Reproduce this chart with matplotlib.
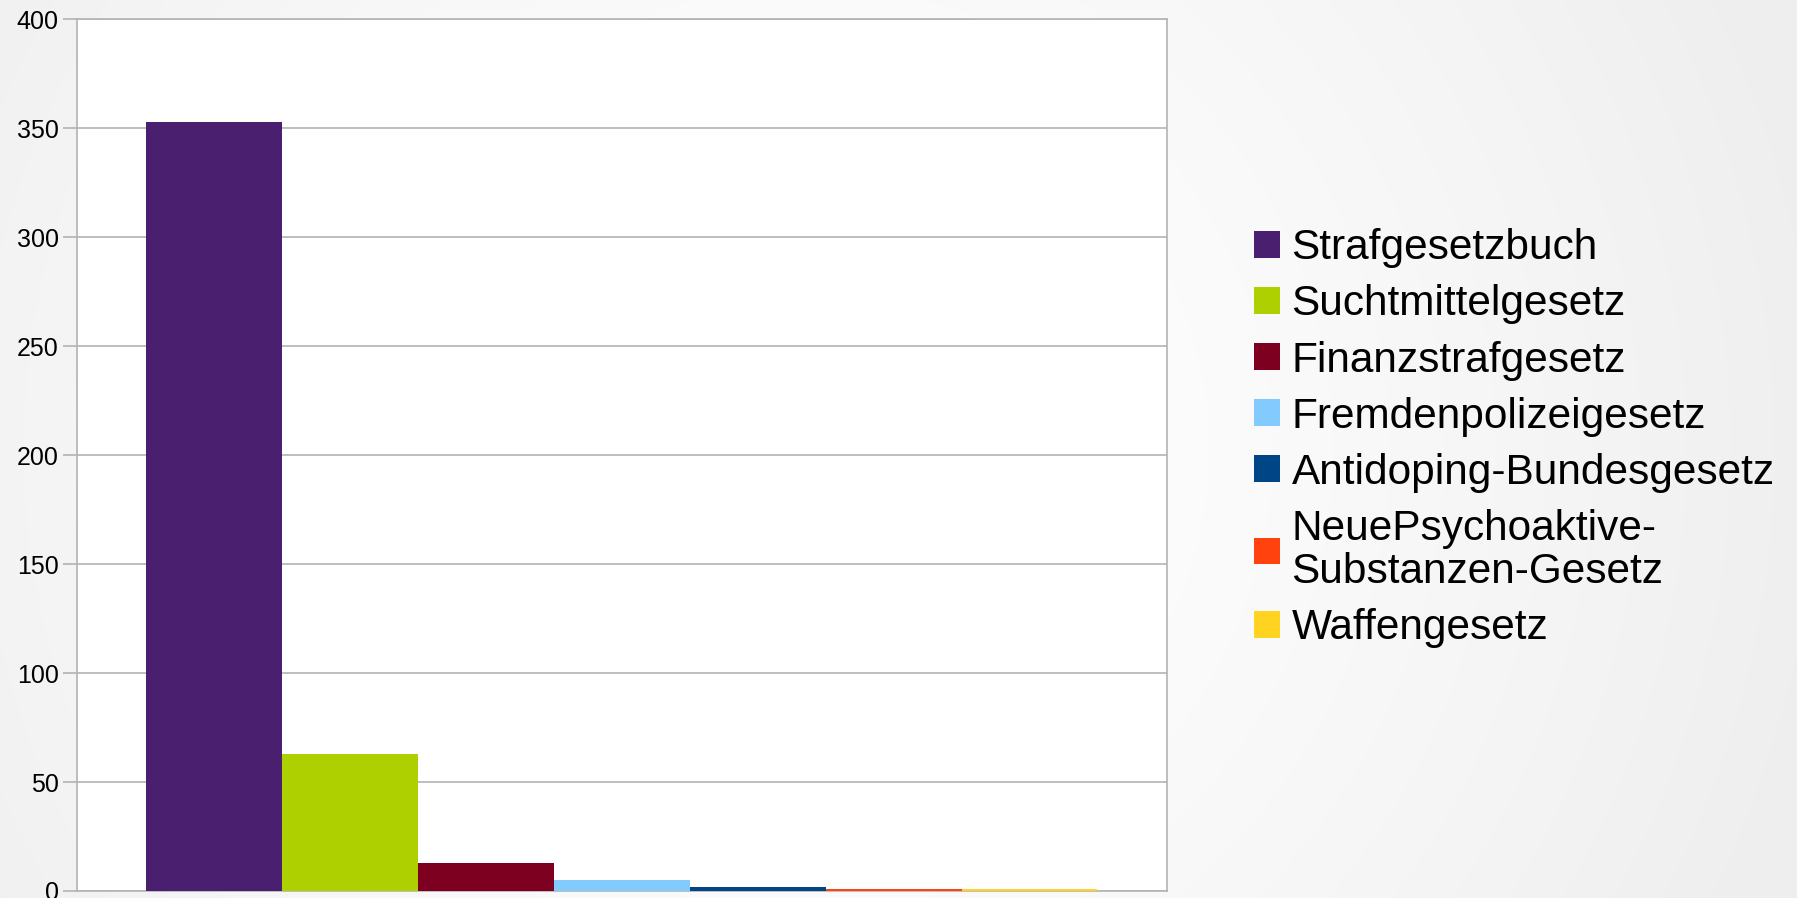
import numpy as np
import matplotlib.pyplot as plt

# data
laws = ['Strafgesetzbuch', 'Suchtmittelgesetz', 'Finanzstrafgesetz',
        'Fremdenpolizeigesetz', 'Antidoping-Bundesgesetz',
        'NeuePsychoaktive-\nSubstanzen-Gesetz', 'Waffengesetz']
counts = [353, 63, 13, 5, 2, 1, 1]
colors = ['#4b1f6f', '#aecf00', '#7e0021', '#83caff', '#004586', '#ff420e', '#ffd320']
y_ticks = [0, 50, 100, 150, 200, 250, 300, 350, 400]


def main():
    plt.rcParams['font.family'] = ['Liberation Sans', 'DejaVu Sans']
    fig = plt.figure(figsize=(17.97, 8.98), dpi=100)

    # soft radial background like the slide
    bg = fig.add_axes([0, 0, 1, 1], zorder=-10)
    yy, xx = np.mgrid[0:1:300j, 0:2:600j]
    r = np.sqrt((xx - 0.9) ** 2 + (yy - 0.5) ** 2)
    shade = 1.0 - 0.065 * np.clip(r / 1.15, 0, 1) ** 1.5
    bg.imshow(np.dstack([shade] * 3), extent=[0, 1, 0, 1], aspect='auto')
    bg.axis('off')

    ax = fig.add_axes([0.0428, 0.0078, 0.6066, 0.9705])
    ax.set_facecolor('white')

    w = 0.8725 / len(counts)
    start = -0.8725 / 2
    for i, (name, val, col) in enumerate(zip(laws, counts, colors)):
        ax.bar(start + w * (i + 0.5), val, width=w, color=col, label=name, zorder=3)

    ax.set_xlim(-0.5, 0.5)
    ax.set_ylim(0, 400)
    ax.set_yticks(y_ticks)
    ax.set_xticks([])
    ax.yaxis.grid(True, color='#b3b3b3', linewidth=1.2, zorder=0)
    ax.tick_params(axis='y', length=10, width=1.2, color='#b3b3b3', labelsize=18, pad=3)
    for s in ax.spines.values():
        s.set_color('#b3b3b3')
        s.set_linewidth(1.2)

    leg = fig.legend(loc='center left', bbox_to_anchor=(0.698, 0.512), frameon=False,
                     fontsize=30.5, handlelength=0.6, handleheight=0.6, handletextpad=0.28,
                     labelspacing=0.38, borderpad=0, borderaxespad=0)
    for t in leg.get_texts():
        t.set_linespacing(1.1)

    fig.savefig('out.png', dpi=100)


if __name__ == "__main__":
    main()
